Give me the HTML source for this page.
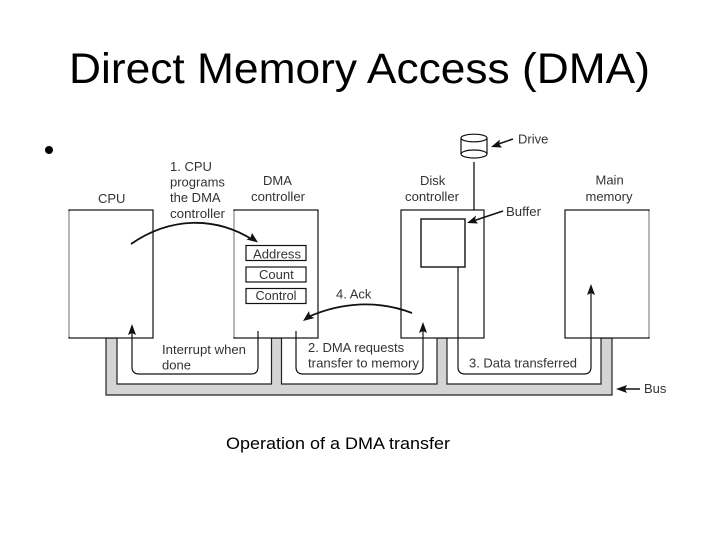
<!DOCTYPE html>
<html><head><meta charset="utf-8"><style>
html,body{margin:0;padding:0;background:#fff}
svg{display:block}
text{font-family:"Liberation Sans",Arial,sans-serif}
.d text{font-size:13px;fill:#333}
</style></head><body>
<svg width="720" height="540" viewBox="0 0 720 540" xmlns="http://www.w3.org/2000/svg">
<rect width="720" height="540" fill="#fff"/>
<text x="69" y="83" font-size="43" textLength="581" lengthAdjust="spacingAndGlyphs" fill="#000">Direct Memory Access (DMA)</text>
<circle cx="49" cy="150" r="4" fill="#000"/>
<text x="226" y="449" font-size="16.5" textLength="224" lengthAdjust="spacingAndGlyphs" fill="#000">Operation of a DMA transfer</text>

<!-- bus -->
<path d="M106 338V395H612V338H601V384H447V338H437V384H281.5V338H271.5V384H117V338Z" fill="#d4d4d4" stroke="#222" stroke-width="1.2"/>

<!-- boxes -->
<g fill="#fff" stroke="#111" stroke-width="1.2">
<rect x="69" y="210" width="84" height="128"/>
<rect x="234" y="210" width="84" height="128"/>
<rect x="401" y="210" width="83" height="128"/>
<rect x="565" y="210" width="84" height="128"/>
<rect x="421" y="219" width="44" height="48" stroke-width="1.4"/>
<rect x="246" y="245.500" width="60" height="15"/>
<rect x="246" y="267" width="60" height="15"/>
<rect x="246" y="288.500" width="60" height="15"/>
</g>
<g stroke="#aaa" stroke-width="1.3" fill="none">
<path d="M69 211V337"/><path d="M234 211V337"/><path d="M649 211V337"/>
</g>

<!-- drive -->
<g fill="#fff" stroke="#111" stroke-width="1.2">
<path d="M461 138V154A13 4 0 0 0 487 154V138"/>
<ellipse cx="474" cy="138" rx="13" ry="3.800"/>
<path d="M461 154A13 4 0 0 1 487 154" fill="none"/>
</g>
<path d="M474 162V210" stroke="#111" stroke-width="1.3"/>

<!-- connectors -->
<g fill="none" stroke="#111" stroke-width="1.2">
<path d="M258 331V367Q258 374 251 374H139Q132 374 132 367V331"/>
<path d="M296 331V367Q296 374 303 374H416Q423 374 423 367V329"/>
<path d="M458 267V367Q458 374 465 374H584Q591 374 591 367V290"/>
</g>
<path d="M131 244C170 217 215 216 253 240" fill="none" stroke="#111" stroke-width="1.800"/>
<path d="M412 313C378 300 342 302 308 317" fill="none" stroke="#111" stroke-width="1.800"/>
<g stroke="#111" stroke-width="1.500">
<path d="M513 139L497 144.500"/><path d="M503 211L473 221"/><path d="M640 389H622"/>
</g>

<!-- arrowheads -->
<g fill="#111">
<path d="M132 324L136 335L132 333L128 335Z"/>
<path d="M423 322L427 333L423 331L419 333Z"/>
<path d="M591 284L595 295L591 293L587 295Z"/>
<path d="M258 242.500L246.500 239.500L250.500 237.500L252 233Z"/>
<path d="M303 321L309 311L310 316L314.500 318Z"/>
<path d="M491 147L500 139.500L499 144L502 147.500Z"/>
<path d="M467 223L476 215.500L475 220L478 223.500Z"/>
<path d="M616 389L627 385L625 389L627 393Z"/>
</g>

<!-- labels -->
<g class="d">
<text x="170" y="171">1. CPU</text>
<text x="170" y="186.500">programs</text>
<text x="170" y="202">the DMA</text>
<text x="170" y="218" textLength="55" lengthAdjust="spacingAndGlyphs">controller</text>
<text x="98" y="203">CPU</text>
<text x="263" y="185">DMA</text>
<text x="251" y="201" textLength="54" lengthAdjust="spacingAndGlyphs">controller</text>
<text x="253" y="258.500" textLength="48" lengthAdjust="spacingAndGlyphs">Address</text>
<text x="259" y="279">Count</text>
<text x="255.500" y="300" textLength="41" lengthAdjust="spacingAndGlyphs">Control</text>
<text x="336" y="298.500">4. Ack</text>
<text x="162" y="354" textLength="84" lengthAdjust="spacingAndGlyphs">Interrupt when</text>
<text x="162" y="369.500">done</text>
<text x="308" y="352">2. DMA requests</text>
<text x="308" y="367.500" textLength="111" lengthAdjust="spacingAndGlyphs">transfer to memory</text>
<text x="469" y="367.500" textLength="108" lengthAdjust="spacingAndGlyphs">3. Data transferred</text>
<text x="420" y="185">Disk</text>
<text x="405" y="201" textLength="54" lengthAdjust="spacingAndGlyphs">controller</text>
<text x="595.500" y="184.500">Main</text>
<text x="585.500" y="201">memory</text>
<text x="518" y="143.500">Drive</text>
<text x="506" y="216" textLength="35" lengthAdjust="spacingAndGlyphs">Buffer</text>
<text x="644" y="393">Bus</text>
</g>
</svg>
</body></html>
